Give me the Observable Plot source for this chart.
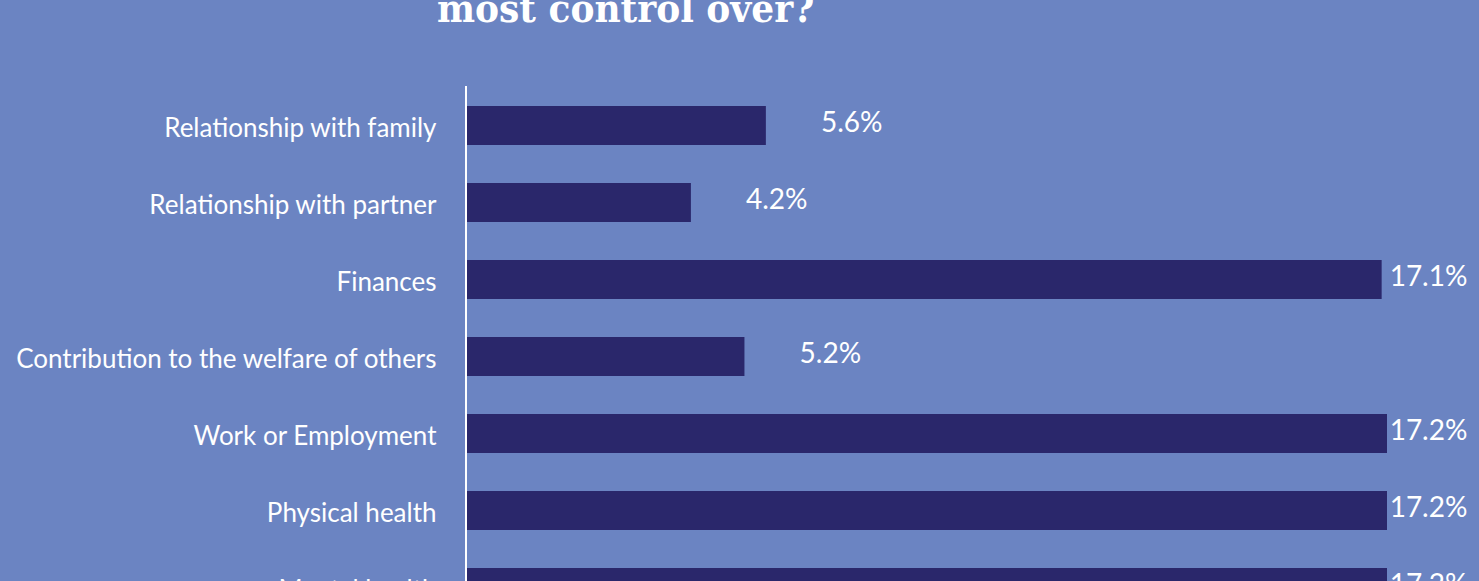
<!DOCTYPE html>
<html>
<head>
<meta charset="utf-8">
<script src="https://cdn.jsdelivr.net/npm/d3@7"></script>
<script src="https://cdn.jsdelivr.net/npm/@observablehq/plot@0.6"></script>
<style>
  html, body { margin: 0; padding: 0; background: #6b84c2; overflow: hidden; width: 1479px; height: 581px; }
  .title { margin: -12px 0 0 0; padding-left: 437px; height: 40px; font: bold 40px "DejaVu Serif Condensed", "DejaVu Serif", serif; line-height: 40px; color: #ffffff; white-space: nowrap; }
  #chart svg { display: block; overflow: visible; }
</style>
</head>
<body>
<div class="title">most control over?</div>
<div id="chart"></div>
<script>
const categories = [
  "Relationship with family",
  "Relationship with partner",
  "Finances",
  "Contribution to the welfare of others",
  "Work or Employment",
  "Physical health",
  "Mental health"
];
const values = [5.6, 4.2, 17.1, 5.2, 17.2, 17.2, 17.2];
const valueLabels = ["5.6%", "4.2%", "17.1%", "5.2%", "17.2%", "17.2%", "17.2%"];

const data = categories.map((c, i) => ({category: c, value: values[i], label: valueLabels[i]}));

const chart = Plot.plot({
  width: 1479,
  height: 599,
  marginTop: 58,
  marginBottom: 0,
  marginLeft: 466,
  marginRight: 0,
  style: {background: "transparent", fontFamily: "Lato, sans-serif", overflow: "visible"},
  x: {domain: [0, 17.2], range: [466, 1387], axis: null},
  y: {domain: categories, paddingInner: 0.5, paddingOuter: 0.255, label: null},
  marks: [
    Plot.barX(data, {x: "value", y: "category", fill: "#2a276b"}),
    Plot.text(data, {
      x: d => Math.min(d.value + 1.02, 17.24),
      y: "category",
      text: "label",
      textAnchor: "start",
      fill: "#ffffff",
      fontSize: 28,
      dy: -2.5,
      fontFamily: "Lato, sans-serif"
    }),
    Plot.axisY({tickSize: 0, tickPadding: 30, fontSize: 26, color: "#ffffff", label: null, fontFamily: "Lato, sans-serif", dy: 3}),
    Plot.ruleX([0], {stroke: "#ffffff", strokeWidth: 2, dx: -0.5})
  ]
});
document.getElementById("chart").appendChild(chart);
</script>
</body>
</html>
